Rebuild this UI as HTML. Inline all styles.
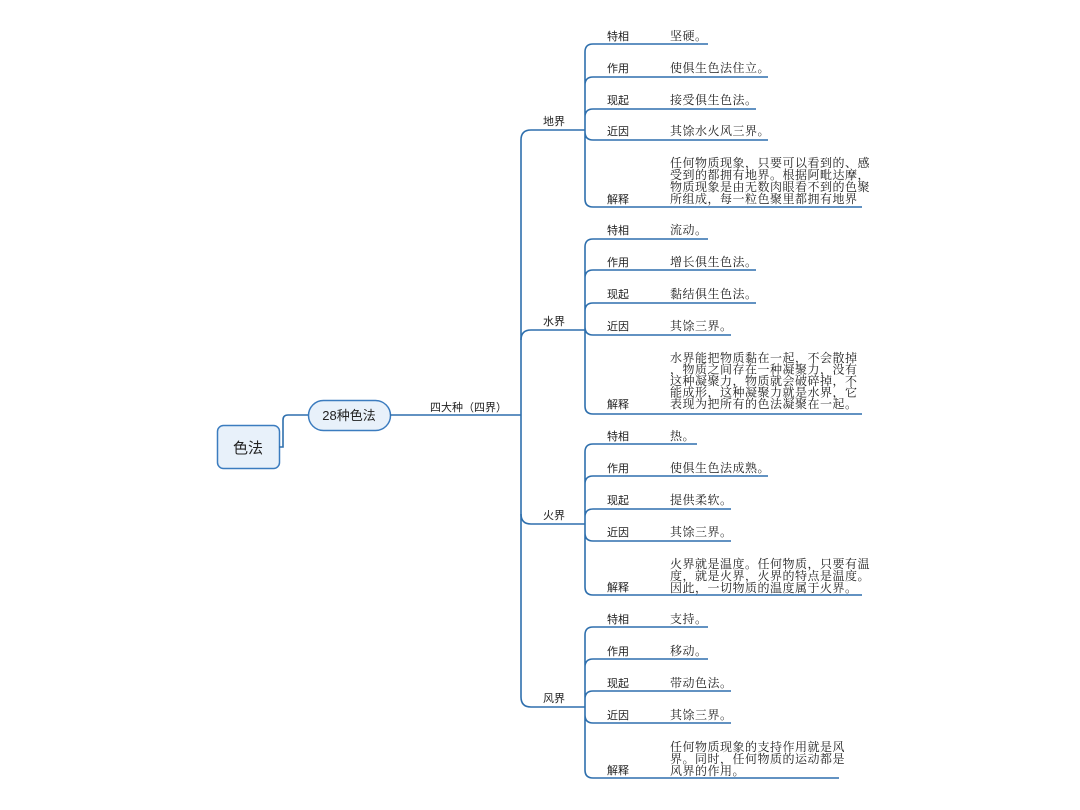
<!DOCTYPE html>
<html><head><meta charset="utf-8"><style>
html,body{margin:0;padding:0;background:#fff;}
svg{display:block;}
.l{font-family:"Liberation Sans","Noto Sans CJK SC",sans-serif;font-size:11px;fill:#222;}
.v{font-family:"Liberation Serif","Noto Serif CJK SC",serif;font-size:12px;fill:#222;letter-spacing:0.5px;}
.ln{fill:none;stroke:#2e6fad;stroke-width:1.6;}
</style></head><body>
<svg width="1080" height="810" viewBox="0 0 1080 810" xmlns="http://www.w3.org/2000/svg">
<!-- root -->
<rect x="217.5" y="425.5" width="62" height="43" rx="6" fill="#e8f1fa" stroke="#3b7cbf" stroke-width="1.5"/>
<text x="248" y="453" text-anchor="middle" style="font-family:'Liberation Sans','Noto Sans CJK SC',sans-serif;font-size:15px;fill:#222">色法</text>
<path class="ln" d="M279,447 H283 V420 Q283,415 288,415 H308"/>
<rect x="308.5" y="400.5" width="82" height="30" rx="15" fill="#e8f1fa" stroke="#3b7cbf" stroke-width="1.5"/>
<text x="349" y="420" text-anchor="middle" style="font-family:'Liberation Sans','Noto Sans CJK SC',sans-serif;font-size:13px;fill:#222">28种色法</text>
<path class="ln" d="M390,415 H521"/>
<text class="l" x="430" y="411">四大种（四界）</text>
<!-- trunk -->
<path class="ln" d="M585,130 H531 Q521,130 521,140 V697 Q521,707 531,707 H585"/>
<path class="ln" d="M521,340 Q521,330 531,330 H585"/>
<path class="ln" d="M521,514 Q521,524 531,524 H585"/>
<text class="l" x="543" y="125">地界</text>
<text class="l" x="543" y="325">水界</text>
<text class="l" x="543" y="519">火界</text>
<text class="l" x="543" y="702">风界</text>

<!-- 地界 -->
<path class="ln" d="M585,52 V199 M585,52 Q585,44 593,44 H708 M585,85 Q585,77 593,77 H768 M585,117 Q585,109 593,109 H756 M585,132 Q585,140 593,140 H768 M585,199 Q585,207 593,207 H862"/>
<text class="l" x="607" y="40">特相</text><text class="v" x="670" y="40">坚硬。</text>
<text class="l" x="607" y="72">作用</text><text class="v" x="670" y="72">使俱生色法住立。</text>
<text class="l" x="607" y="104">现起</text><text class="v" x="670" y="104">接受俱生色法。</text>
<text class="l" x="607" y="135">近因</text><text class="v" x="670" y="135">其馀水火风三界。</text>
<text class="l" x="607" y="203">解释</text>
<text class="v" x="670" y="167">任何物质现象，只要可以看到的、感</text>
<text class="v" x="670" y="179">受到的都拥有地界。根据阿毗达摩，</text>
<text class="v" x="670" y="191">物质现象是由无数肉眼看不到的色聚</text>
<text class="v" x="670" y="203">所组成，每一粒色聚里都拥有地界</text>

<!-- 水界 -->
<path class="ln" d="M585,247 V406 M585,247 Q585,239 593,239 H708 M585,278 Q585,270 593,270 H756 M585,311 Q585,303 593,303 H756 M585,327 Q585,335 593,335 H731 M585,406 Q585,414 593,414 H862"/>
<text class="l" x="607" y="234">特相</text><text class="v" x="670" y="234">流动。</text>
<text class="l" x="607" y="266">作用</text><text class="v" x="670" y="266">增长俱生色法。</text>
<text class="l" x="607" y="298">现起</text><text class="v" x="670" y="298">黏结俱生色法。</text>
<text class="l" x="607" y="330">近因</text><text class="v" x="670" y="330">其馀三界。</text>
<text class="l" x="607" y="408">解释</text>
<text class="v" x="670" y="362">水界能把物质黏在一起，不会散掉</text>
<text class="v" x="670" y="373.5">，物质之间存在一种凝聚力，没有</text>
<text class="v" x="670" y="385">这种凝聚力，物质就会破碎掉，不</text>
<text class="v" x="670" y="396.5">能成形，这种凝聚力就是水界，它</text>
<text class="v" x="670" y="408">表现为把所有的色法凝聚在一起。</text>

<!-- 火界 -->
<path class="ln" d="M585,452 V587 M585,452 Q585,444 593,444 H697 M585,484 Q585,476 593,476 H768 M585,517 Q585,509 593,509 H731 M585,533 Q585,541 593,541 H731 M585,587 Q585,595 593,595 H862"/>
<text class="l" x="607" y="440">特相</text><text class="v" x="670" y="440">热。</text>
<text class="l" x="607" y="472">作用</text><text class="v" x="670" y="472">使俱生色法成熟。</text>
<text class="l" x="607" y="504">现起</text><text class="v" x="670" y="504">提供柔软。</text>
<text class="l" x="607" y="536">近因</text><text class="v" x="670" y="536">其馀三界。</text>
<text class="l" x="607" y="591">解释</text>
<text class="v" x="670" y="568">火界就是温度。任何物质，只要有温</text>
<text class="v" x="670" y="580">度，就是火界，火界的特点是温度。</text>
<text class="v" x="670" y="592">因此，一切物质的温度属于火界。</text>

<!-- 风界 -->
<path class="ln" d="M585,635 V770 M585,635 Q585,627 593,627 H708 M585,667 Q585,659 593,659 H708 M585,699 Q585,691 593,691 H731 M585,715 Q585,723 593,723 H731 M585,770 Q585,778 593,778 H839"/>
<text class="l" x="607" y="623">特相</text><text class="v" x="670" y="623">支持。</text>
<text class="l" x="607" y="655">作用</text><text class="v" x="670" y="655">移动。</text>
<text class="l" x="607" y="687">现起</text><text class="v" x="670" y="687">带动色法。</text>
<text class="l" x="607" y="719">近因</text><text class="v" x="670" y="719">其馀三界。</text>
<text class="l" x="607" y="774">解释</text>
<text class="v" x="670" y="751">任何物质现象的支持作用就是风</text>
<text class="v" x="670" y="763">界。同时，任何物质的运动都是</text>
<text class="v" x="670" y="775">风界的作用。</text>
</svg>
</body></html>
